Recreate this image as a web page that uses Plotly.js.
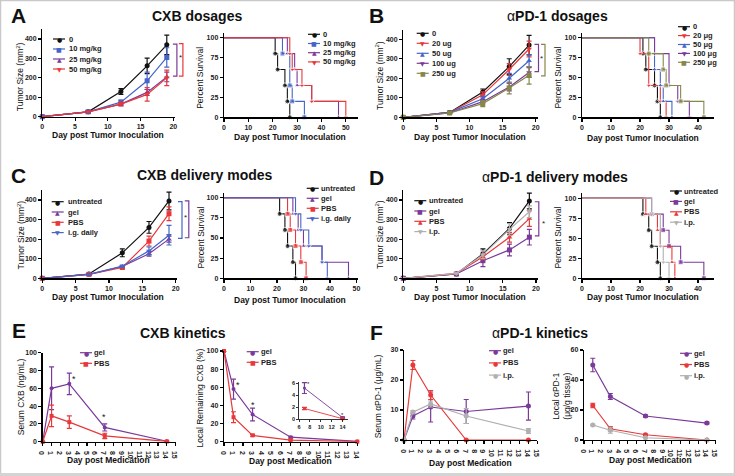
<!DOCTYPE html>
<html><head><meta charset="utf-8">
<script src="https://cdn.plot.ly/plotly-3.0.1.min.js"></script>
<style>html,body{margin:0;padding:0;background:#fff}</style>
</head><body><div id="chart" style="width:735px;height:476px"></div>
<script>
// ---------------- DATA ----------------
const tumorDays = [0, 7, 12, 16, 19];
const tumorDaysD = [0, 8, 12, 16, 19];

// A: CXB dosages
const aLabels = ['0', '10 mg/kg', '25 mg/kg', '50 mg/kg'];
const aTumor = [[0,25,130,262,370],[0,25,75,185,305],[0,25,65,125,205],[0,25,65,115,200]];
const aTumorErr = [[0,5,15,40,50],[0,5,10,45,50],[0,3,8,15,25],[0,3,10,35,40]];
const aSurvT = [[0,21,22,25,26,27],[0,24,27,28,33],[0,26,29,30,36,47],[0,27,28,32,36,50]];
const aSurvS = [[100,80,60,40,20,0],[100,80,40,20,0],[100,80,60,40,20,0],[100,80,60,40,20,0]];

// B: aPD-1 dosages
const bLabels = ['0', '20 ug', '50 ug', '100 ug', '250 ug'];
const bSurvLabels = ['0', '20 μg', '50 μg', '100 μg', '250 μg'];
const bTumor = [[0,25,130,260,370],[0,25,115,245,350],[0,25,95,200,290],[0,22,80,155,230],[0,22,70,150,215]];
const bTumorErr = [[0,5,15,40,50],[0,5,15,30,40],[0,4,12,25,30],[0,4,10,20,25],[0,5,15,30,45]];
const bSurvT = [[0,21,22,25,26,27],[0,20,23,27,29],[0,25,27,28,31],[0,25,30,33,37],[0,23,28,29,34,42]];
const bSurvS = [[100,80,60,40,20,0],[100,80,40,20,0],[100,60,40,20,0],[100,80,40,20,0],[100,80,60,40,20,0]];

// C: CXB delivery modes
const cLabels = ['untreated', 'gel', 'PBS', 'i.g. daily'];
const cTumor = [[0,22,130,260,395],[0,20,60,125,200],[0,20,55,190,330],[0,20,62,140,220]];
const cTumorErr = [[0,3,20,30,45],[0,3,5,12,15],[0,3,5,25,35],[0,3,5,20,50]];
const cSurvT = [[0,21,23,24,26,27],[0,26,28,30,37,47],[0,24,25,27,29,31],[0,27,29,32,37,39]];
const cSurvS = [[100,80,60,40,20,0],[100,80,60,40,20,0],[100,80,60,40,20,0],[100,80,60,40,20,0]];

// D: aPD-1 delivery modes
const dLabels = ['untreated', 'gel', 'PBS', 'i.p.'];
const dTumor = [[0,22,125,255,395],[0,22,90,145,210],[0,25,110,210,305],[0,25,120,250,340]];
const dTumorErr = [[0,3,25,30,40],[0,3,30,30,40],[0,3,15,25,40],[0,3,20,30,30]];
const dSurvT = [[0,21,23,24,26,27],[0,24,28,30,34,42],[0,22,26,27,31,32],[0,24,27,28,30]];
const dSurvS = [[100,80,60,40,20,0],[100,80,60,40,20,0],[100,80,60,40,20,0],[100,80,40,20,0]];

// E: CXB kinetics
const kinLabels2 = ['gel', 'PBS'];
const eDays = [0, 1, 3, 7, 14];
const eSerum = [[0,60,65,16,0.5],[0,29,22,6.5,0.3]];
const eSerumErr = [[0,24,12,4,0],[0,12,7,3,0]];
const eLocal = [[100,58,30,5,0.3],[100,27,7,1.8,0.1]];
const eLocalErr = [[0,11,7,1,0],[0,6,1,0.3,0]];
const eInsetDays = [7, 14];
const eInset = [[5.2,0.3],[1.8,0.1]];
const eInsetErr = [[0.9,0.1],[0.2,0.05]];

// F: aPD-1 kinetics
const kinLabels3 = ['gel', 'PBS', 'i.p.'];
const fDays = [0, 1, 3, 7, 14];
const fSerum = [[0,8,11,9.5,11.3],[0,25,15,0,0],[0,9.3,12,8,3]];
const fSerumErr = [[0,1,5,4,4.7],[0,1.5,1.5,0,0],[0,0.5,1,2.5,0.8]];
const fLocalDays = [1, 3, 7, 14];
const fLocal = [[50,29,16,11.3],[23,7.5,3.5,0],[10,6.5,1.5,0]];
const fLocalErr = [[4.5,2,0.8,0.6],[1.5,1.5,0.5,0],[0.5,2,0.3,0]];

// ---------------- STYLE ----------------
const W = 735, H = 476;
const FONT = 'Liberation Sans, Arial, sans-serif';
const BLACK = '#111111', BLUE = '#4565c8', PURPLE = '#7a3a9a', RED = '#e8383a', OLIVE = '#86884a', GRAY = '#b0b0b0';
const px = x => x / W, py = y => 1 - y / H;

// axis pixel boxes: [xLeft, xRight], [yTop, yBottom], range x, range y, dtick x, dtick y
const AX = [
  null,
  {x:[42.3,175.3], y:[29.3,116.7], xr:[0,20.3], yr:[0,450], dx:5, dy:100},
  {x:[224,358],    y:[32.9,117.3], xr:[0,55],   yr:[0,106], dx:10, dy:25},
  {x:[403.3,537.7],y:[29.5,117.3], xr:[0,20.3], yr:[0,450], dx:5, dy:100},
  {x:[582,714],    y:[32.9,117.3], xr:[0,45.5], yr:[0,106], dx:10, dy:25},
  {x:[42.3,177],   y:[190.2,278.3],xr:[0,20.2], yr:[0,450], dx:5, dy:100},
  {x:[224,357.5],  y:[192.9,278.3],xr:[0,50.4], yr:[0,106], dx:10, dy:25},
  {x:[403.3,538],  y:[190.2,278.3],xr:[0,20.3], yr:[0,450], dx:5, dy:100},
  {x:[582,714],    y:[193.3,278.3],xr:[0,45.5], yr:[0,106], dx:10, dy:25},
  {x:[42.7,175.7], y:[352.7,441.7],xr:[0,15],   yr:[0,100], dx:1, dy:20},
  {x:[224,357.3],  y:[351,441.7],  xr:[0,14],   yr:[0,100], dx:1, dy:20},
  {x:[404,537.3],  y:[350,440],    xr:[0,15],   yr:[0,30],  dx:1, dy:10},
  {x:[584,715.7],  y:[350,440],    xr:[0,15],   yr:[0,60],  dx:1, dy:20},
  {x:[299,348],    y:[381.5,419.3],xr:[6,15],   yr:[0,6.3], dx:2, dy:2, small:true}
];

const layout = {
  width: W, height: H, margin: {l:0, r:0, t:0, b:0},
  paper_bgcolor: '#ffffff', plot_bgcolor: 'rgba(0,0,0,0)',
  showlegend: false, font: {family: FONT, color: '#222'},
  shapes: [], annotations: []
};

for (let i = 1; i < AX.length; i++) {
  const a = AX[i];
  const tf = {family: FONT, size: a.small ? 5.5 : 7, color: '#222', weight: 'bold'};
  const base = {showline:true, linecolor:'#000', linewidth: a.small ? 0.8 : 1.3, ticks:'outside',
    ticklen: a.small ? 2 : 3, tickwidth: a.small ? 0.8 : 1.1, tickcolor:'#000', showgrid:false, zeroline:false,
    tickfont: tf, fixedrange:true, ticklabelstandoff: 0};
  const s = i === 1 ? '' : String(i);
  layout['xaxis' + s] = Object.assign({}, base, {
    domain:[px(a.x[0]), px(a.x[1])], range:a.xr, dtick:a.dx, tick0: a.xr[0],
    anchor:'y' + s});
  layout['yaxis' + s] = Object.assign({}, base, {
    domain:[py(a.y[1]), py(a.y[0])], range:a.yr, dtick:a.dy, tick0: 0,
    anchor:'x' + s});
}

const traces = [];
function lineTraces(axi, xs, ys, errs, colors, symbols, lw, ms) {
  const s = axi === 1 ? '' : String(axi);
  ys.forEach((yv, k) => {
    traces.push({
      type:'scatter', mode:'lines+markers', x: xs, y: yv, xaxis:'x'+s, yaxis:'y'+s,
      line:{color:colors[k], width: lw || 1.2},
      marker:{color:colors[k], symbol:symbols[k], size: ms || 5},
      error_y: {type:'data', array: errs[k], visible:true, color:colors[k], thickness:1.2, width:2.5},
      cliponaxis:false, hoverinfo:'skip'
    });
  });
}
function survTraces(axi, ts, ss, colors, symbols) {
  const s = String(axi);
  ts.forEach((tv, k) => {
    traces.push({
      type:'scatter', mode:'lines+markers', x: tv, y: ss[k], xaxis:'x'+s, yaxis:'y'+s,
      line:{color:colors[k], width:1.1, shape:'hv'},
      marker:{color:colors[k], symbol:symbols[k], size: tv.map((v,j)=> j === 0 ? 0 : 5)},
      cliponaxis:false, hoverinfo:'skip'
    });
  });
}

const aCol = [BLACK, BLUE, PURPLE, RED], aSym = ['circle','square','triangle-up','triangle-down'];
const bCol = [BLACK, RED, BLUE, PURPLE, OLIVE], bSym = ['circle','triangle-down','triangle-up','triangle-down','square'];
const cCol = [BLACK, PURPLE, RED, BLUE], cSym = ['circle','triangle-up','square','triangle-down'];
const dCol = [BLACK, PURPLE, RED, GRAY], dSym = ['circle','square','triangle-up','triangle-down'];
const eCol = [PURPLE, RED], eSym = ['circle','square'];
const fCol = [PURPLE, RED, GRAY], fSym = ['circle','circle','circle'];

lineTraces(1, tumorDays, aTumor, aTumorErr, aCol, aSym);
survTraces(2, aSurvT, aSurvS, aCol, aSym);
lineTraces(3, tumorDays, bTumor, bTumorErr, bCol, bSym);
survTraces(4, bSurvT, bSurvS, bCol, bSym);
lineTraces(5, tumorDays, cTumor, cTumorErr, cCol, cSym);
survTraces(6, cSurvT, cSurvS, cCol, cSym);
lineTraces(7, tumorDaysD, dTumor, dTumorErr, dCol, dSym);
survTraces(8, dSurvT, dSurvS, dCol, dSym);
lineTraces(9, eDays, eSerum, eSerumErr, eCol, eSym, 1.2, 4);
lineTraces(10, eDays, eLocal, eLocalErr, eCol, eSym, 1.2, 4);
lineTraces(11, fDays, fSerum, fSerumErr, fCol, fSym, 1.2, 5);
lineTraces(12, fLocalDays, fLocal, fLocalErr, fCol, fSym, 1.2, 5);
lineTraces(13, eInsetDays, eInset, eInsetErr, eCol, eSym, 0.9, 3);

// helpers mapping data -> pixel for decorations
function yPx(axi, v) { const a = AX[axi]; return a.y[1] - (v - a.yr[0]) / (a.yr[1] - a.yr[0]) * (a.y[1] - a.y[0]); }
function xPx(axi, v) { const a = AX[axi]; return a.x[0] + (v - a.xr[0]) / (a.xr[1] - a.xr[0]) * (a.x[1] - a.x[0]); }

function bracket(axi, offset, v0, v1, color) {
  const X = AX[axi].x[1] + offset, Y0 = yPx(axi, v0), Y1 = yPx(axi, v1);
  layout.shapes.push({type:'path', xref:'paper', yref:'paper', line:{color, width:1.2},
    path:`M ${px(X-4)} ${py(Y0)} L ${px(X)} ${py(Y0)} L ${px(X)} ${py(Y1)} L ${px(X-4)} ${py(Y1)}`});
}
function star(axi, xv, yv, size) {
  layout.annotations.push({xref:'paper', yref:'paper', x:px(xPx(axi, xv)), y:py(yPx(axi, yv)),
    text:'*', showarrow:false, font:{family:FONT, size:size||9, color:'#222'}, xanchor:'center', yanchor:'middle'});
}
function starPx(axi, offset, yv) {
  layout.annotations.push({xref:'paper', yref:'paper', x:px(AX[axi].x[1] + offset), y:py(yPx(axi, yv)),
    text:'*', showarrow:false, font:{family:FONT, size:8, color:'#222'}, xanchor:'center', yanchor:'middle'});
}

// significance brackets
bracket(1, 1.6, 209, 374, PURPLE); bracket(1, 7.6, 209, 376, RED); starPx(1, 4.8, 305);
bracket(3, 0.8, 234, 374, PURPLE); bracket(3, 7.3, 212, 374, OLIVE); starPx(3, 4.2, 300);
bracket(5, 5.0, 204, 392, BLUE); bracket(5, 11.8, 207, 395, PURPLE); starPx(5, 8.2, 312);
bracket(7, 0.8, 217, 391, PURPLE); starPx(7, 5.0, 282);

// stars on kinetics
star(9, 3.5, 70); star(9, 6.9, 28);
star(10, 1.5, 62); star(10, 3.0, 41);
star(13, 7.8, 5.9, 6); star(13, 14, 0.8, 6);

// legends
const SYM = {'circle':'●','square':'■','triangle-up':'▲','triangle-down':'▼'};
function legend(xs, xt, y0, dy, colors, symbols, labels) {
  labels.forEach((lab, k) => {
    const y = y0 + k * dy;
    layout.shapes.push({type:'line', xref:'paper', yref:'paper', x0:px(xs), x1:px(xs+12), y0:py(y), y1:py(y),
      line:{color:colors[k], width:1.2}});
    layout.annotations.push({xref:'paper', yref:'paper', x:px(xs+6), y:py(y+0.3), text:SYM[symbols[k]], showarrow:false,
      font:{family:'DejaVu Sans', size:6, color:colors[k]}, xanchor:'center', yanchor:'middle', borderpad:0});
    layout.annotations.push({xref:'paper', yref:'paper', x:px(xt), y:py(y), text:'<b>'+lab+'</b>', showarrow:false,
      font:{family:FONT, size:7.5, color:'#222'}, xanchor:'left', yanchor:'middle', borderpad:0});
  });
}
legend(53, 68, 39, 10, aCol, aSym, aLabels);
legend(308, 322, 34.3, 9.2, aCol, aSym, aLabels);
legend(416.7, 430.7, 33.3, 10, bCol, bSym, bLabels);
legend(678, 692, 26.7, 8.9, bCol, bSym, bSurvLabels);
legend(51.7, 66.7, 201.7, 10.3, cCol, cSym, cLabels);
legend(306.7, 320, 188.3, 10, cCol, cSym, cLabels);
legend(414.3, 428.3, 200.7, 10.3, dCol, dSym, dLabels);
legend(670, 683.3, 191, 10.4, dCol, dSym, dLabels);
legend(80, 93.3, 352.7, 10.6, eCol, eSym, kinLabels2);
legend(246.7, 260, 351.7, 10.6, eCol, eSym, kinLabels2);
legend(489, 502.3, 350.7, 12.2, fCol, fSym, kinLabels3);
legend(680, 693.3, 353.3, 11.2, fCol, fSym, kinLabels3);

// text: panel letters, titles, axis titles
function txt(x, y, t, size, opts) {
  layout.annotations.push(Object.assign({xref:'paper', yref:'paper', x:px(x), y:py(y), text:t, showarrow:false,
    font:{family:FONT, size, color:'#111'}, xanchor:'center', yanchor:'middle', borderpad:0}, opts || {}));
}
[['A',18.5,15],['B',376,16],['C',18.5,175],['D',376,177],['E',19,330],['F',376,332]].forEach(l => txt(l[1], l[2], '<b>'+l[0]+'</b>', 21));
txt(197, 16, '<b>CXB dosages</b>', 14);
txt(557, 16, 'α<b>PD-1 dosages</b>', 14);
txt(205, 175, '<b>CXB delivery modes</b>', 14);
txt(555, 177, 'α<b>PD-1 delivery modes</b>', 14);
txt(183, 333, '<b>CXB kinetics</b>', 14);
txt(540, 333, 'α<b>PD-1 kinetics</b>', 14);

const XT1 = '<b>Day post Tumor Inoculation</b>', XT2 = '<b>Day post Medication</b>';
[[108,135.3],[290,137],[470,136.5],[643.3,137.8],[108.3,296.5],[290,299.5],[470,296.5],[643,297.3]].forEach(p => txt(p[0], p[1], XT1, 8.5));
[[108.3,460],[290,461],[470,462.5],[650,460]].forEach(p => txt(p[0], p[1], XT2, 8.5));

const TS = 'Tumor Size (mm<sup>2</sup>)', PS = 'Percent Survival';
[[20.5,76.7,TS],[200.5,78.3,PS],[379,76,TS],[557.5,78,PS],[20.5,235,TS],[200.5,238,PS],[379,235,TS],[557.5,238,PS],
 [20.5,396.7,'Serum CXB (ng/mL)'],[199.5,398,'Local Remaining CXB (%)'],[377.5,396.7,'Serum αPD-1 (μg/mL)'],
 [562,396.7,'Local αPD-1<br>(μg/g tissue)']].forEach(p => txt(p[0], p[1], p[2], 8.5, {textangle:-90}));

// figure frame
layout.shapes.push({type:'rect', xref:'paper', yref:'paper', x0:px(0.5), x1:px(734.5), y0:py(0.5), y1:py(475.5), line:{color:'#c9c9c9', width:1.5}, layer:'below'});
layout.shapes.push({type:'rect', xref:'paper', yref:'paper', x0:0, x1:1, y0:0, y1:py(473), fillcolor:'#d4d4d4', line:{width:0}, layer:'below'});

Plotly.newPlot('chart', traces, layout, {staticPlot:true, displayModeBar:false});
</script></body></html>
